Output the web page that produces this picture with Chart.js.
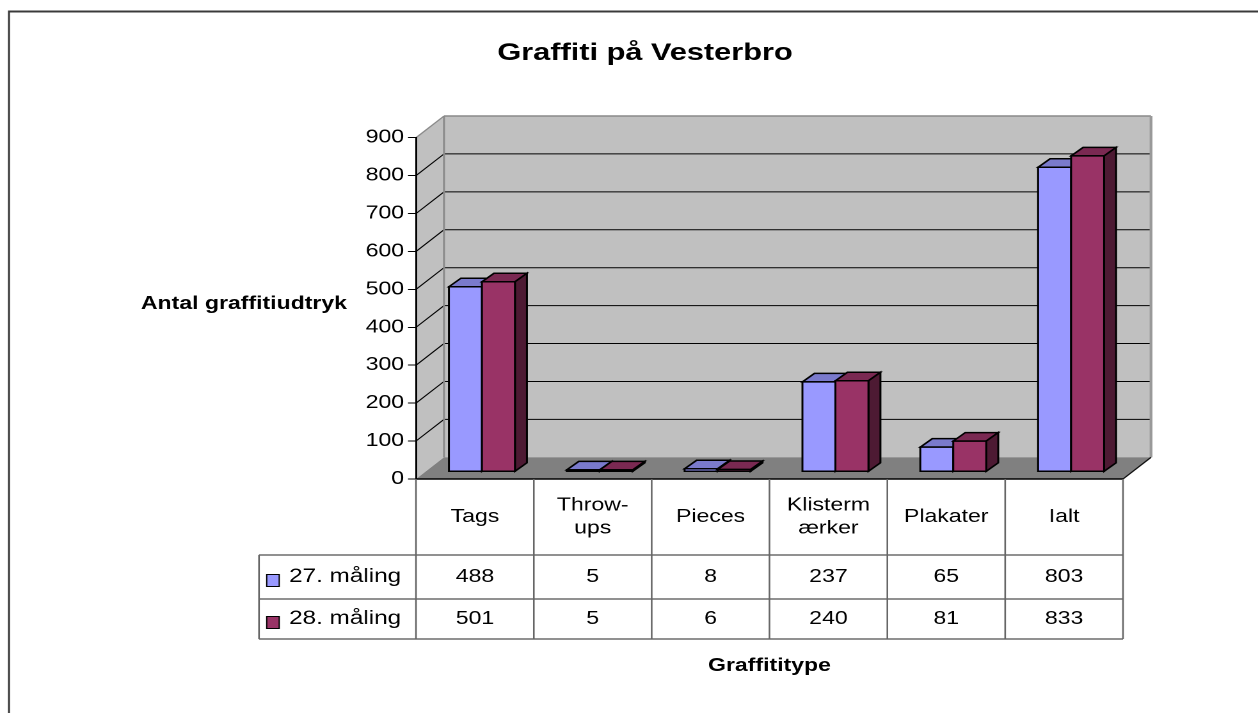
<!DOCTYPE html>
<html>
<head>
<meta charset="utf-8">
<script src="https://cdn.jsdelivr.net/npm/chart.js@4/dist/chart.umd.min.js"></script>
<style>
  html, body { margin: 0; padding: 0; background: #fff; }
  #chart { display: block; width: 1258px; height: 713px; }
</style>
</head>
<body>
<canvas id="chart" width="983" height="713" style="width:1258px;height:713px"></canvas>
<script>
const title = "Graffiti på Vesterbro";
const yTitle = "Antal graffitiudtryk";
const xTitle = "Graffititype";
const categories = ["Tags", ["Throw-", "ups"], "Pieces", ["Klisterm", "ærker"], "Plakater", "Ialt"];
const seriesNames = ["27. måling", "28. måling"];
const maaling27 = [488, 5, 8, 237, 65, 803];
const maaling28 = [501, 5, 6, 240, 81, 833];
const yMin = 0, yMax = 900, yStep = 100;

const FONT = "'Liberation Sans', Arial, sans-serif";
// the original is stretched sideways, so the canvas is drawn narrower and scaled up by CSS
const SX = 1258 / 983;

// colours: front, top, side
const shades = [
  ["#9999FF", "#7A7ACC", "#4D4D80"],
  ["#993366", "#7A2952", "#4D1A33"],
];

// depth of the walls and of the bars
const wallDx = 28 / SX, wallDy = -21.7;
const barFx = 7 / SX, barFy = -7.2;
const barDx = 12 / SX, barDy = -8.5;

function poly(ctx, pts, fill, stroke, lw) {
  ctx.beginPath();
  ctx.moveTo(pts[0][0], pts[0][1]);
  for (let i = 1; i < pts.length; i++) ctx.lineTo(pts[i][0], pts[i][1]);
  ctx.closePath();
  if (fill) { ctx.fillStyle = fill; ctx.fill(); }
  if (stroke) { ctx.strokeStyle = stroke; ctx.lineWidth = lw || 1; ctx.stroke(); }
}

function line(ctx, x1, y1, x2, y2, color, lw) {
  ctx.beginPath();
  ctx.moveTo(x1, y1);
  ctx.lineTo(x2, y2);
  ctx.strokeStyle = color;
  ctx.lineWidth = lw;
  ctx.stroke();
}

const box3d = {
  id: "box3d",
  beforeDraw(chart) {
    const ctx = chart.ctx;
    const { left: L, right: R } = chart.chartArea;
    const y = chart.scales.y;
    const T = y.getPixelForValue(yMax), B = y.getPixelForValue(yMin);
    ctx.save();
    // outer frame
    line(ctx, 7, 11.5, chart.width, 11.5, "#3a3a3a", 2);
    line(ctx, 7, 10.5, 7, chart.height, "#3a3a3a", 1.6);
    // back wall
    poly(ctx, [[L + wallDx, T + wallDy], [R + wallDx, T + wallDy], [R + wallDx, B + wallDy], [L + wallDx, B + wallDy]], "#C0C0C0");
    // left wall
    poly(ctx, [[L, T], [L + wallDx, T + wallDy], [L + wallDx, B + wallDy], [L, B]], "#C0C0C0");
    // grid lines on both walls
    for (let v = yMin + yStep; v < yMax; v += yStep) {
      const py = y.getPixelForValue(v);
      line(ctx, L + wallDx, py + wallDy, R + wallDx, py + wallDy, "#000", 1);
      line(ctx, L, py, L + wallDx, py + wallDy, "#000", 1);
    }
    line(ctx, L + wallDx, T + wallDy, R + wallDx, T + wallDy, "#8a8a8a", 1.5);
    line(ctx, L, T, L + wallDx, T + wallDy, "#8a8a8a", 1.2);
    line(ctx, L + wallDx, T + wallDy, L + wallDx, B + wallDy, "#8a8a8a", 1.5);
    line(ctx, R + wallDx, T + wallDy, R + wallDx, B + wallDy, "#999", 2.2);
    // floor
    poly(ctx, [[L, B], [R, B], [R + wallDx, B + wallDy], [L + wallDx, B + wallDy]], "#808080");
    line(ctx, R, B, R + wallDx, B + wallDy, "#111", 1.2);
    line(ctx, L, B, R, B, "#000", 1.5);
    ctx.restore();
  },
  beforeDatasetsDraw(chart) {
    const ctx = chart.ctx;
    ctx.save();
    ctx.lineJoin = "miter";
    const n = chart.data.labels.length;
    for (let i = 0; i < n; i++) {
      chart.data.datasets.forEach((ds, d) => {
        const el = chart.getDatasetMeta(d).data[i];
        const { x, y, base, width } = el.getProps(["x", "y", "base", "width"], true);
        const x0 = x - width / 2 + barFx, x1 = x + width / 2 + barFx;
        const top = y + barFy, bot = base + barFy;
        const [front, topC, side] = shades[d];
        poly(ctx, [[x0, top], [x1, top], [x1 + barDx, top + barDy], [x0 + barDx, top + barDy]], topC, "#000", 1.5);
        poly(ctx, [[x1, top], [x1 + barDx, top + barDy], [x1 + barDx, bot + barDy], [x1, bot]], side, "#000", 1.5);
        poly(ctx, [[x0, top], [x1, top], [x1, bot], [x0, bot]], front, "#000", 1.5);
      });
    }
    ctx.restore();
    return false;
  },
  afterDraw(chart) {
    const ctx = chart.ctx;
    const { left: L, right: R } = chart.chartArea;
    const xs = chart.scales.x;
    const B = chart.scales.y.getPixelForValue(yMin);
    const n = chart.data.labels.length;
    const cw = (R - L) / n;
    const rowTop = 555, rowMid = 599, rowBot = 639;
    const legendLeft = 259 / SX;
    ctx.save();
    ctx.fillStyle = "#000";
    ctx.textBaseline = "middle";
    ctx.textAlign = "center";

    // titles
    ctx.font = "bold 24px " + FONT;
    ctx.fillText(title, 645 / SX, 53.5);
    ctx.font = "bold 18px " + FONT;
    ctx.fillText(yTitle, 244 / SX, 304);
    ctx.fillText(xTitle, (L + R) / 2, 666);

    // data table grid
    [rowTop, rowMid, rowBot].forEach((ry) => line(ctx, legendLeft, ry, R, ry, "#222", 1));
    for (let k = 0; k <= n; k++) {
      line(ctx, L + k * cw, B, L + k * cw, rowBot, "#666", 1.3);
    }
    line(ctx, legendLeft, rowTop, legendLeft, rowBot, "#666", 1.3);

    // header: category names
    ctx.font = "18px " + FONT;
    chart.data.labels.forEach((lab, i) => {
      const lines = Array.isArray(lab) ? lab : [lab];
      const cx = xs.getPixelForValue(i);
      const cy = (B + rowTop) / 2;
      lines.forEach((t, j) => ctx.fillText(t, cx, cy + (j - (lines.length - 1) / 2) * 23));
    });

    // rows: legend key + values
    const rows = [(rowTop + rowMid) / 2, (rowMid + rowBot) / 2];
    chart.data.datasets.forEach((ds, d) => {
      const cy = rows[d];
      ctx.fillStyle = shades[d][0];
      ctx.fillRect(266.7 / SX, cy - 2.5, 12.5 / SX, 12);
      ctx.strokeStyle = "#000";
      ctx.lineWidth = 1;
      ctx.strokeRect(266.7 / SX, cy - 2.5, 12.5 / SX, 12);
      ctx.fillStyle = "#000";
      ctx.textAlign = "left";
      ctx.font = "19px " + FONT;
      ctx.fillText(ds.label, 289 / SX, cy);
      ctx.textAlign = "center";
      ctx.font = "18px " + FONT;
      ds.data.forEach((v, i) => ctx.fillText(String(v), xs.getPixelForValue(i), cy));
    });
    ctx.restore();
  },
};

new Chart(document.getElementById("chart"), {
  type: "bar",
  data: {
    labels: categories,
    datasets: [
      { label: seriesNames[0], data: maaling27, backgroundColor: shades[0][0] },
      { label: seriesNames[1], data: maaling28, backgroundColor: shades[1][0] },
    ],
  },
  options: {
    responsive: false,
    devicePixelRatio: 2,
    animation: false,
    layout: { padding: { top: 137.7, right: 983 - 1123 / SX, bottom: 713 - 479, left: 0 } },
    datasets: { bar: { categoryPercentage: 0.56, barPercentage: 1.0 } },
    plugins: {
      legend: { display: false },
      title: { display: false },
      tooltip: { enabled: false },
    },
    scales: {
      x: { display: false, offset: true },
      y: {
        min: yMin,
        max: yMax,
        ticks: { stepSize: yStep, color: "#000", padding: 3, font: { family: FONT, size: 18 } },
        grid: { drawOnChartArea: false, drawTicks: true, tickLength: 8 / SX, color: "#000", lineWidth: 1 },
        border: { display: true, color: "#000", width: 1.5 },
        afterFit(scale) { scale.width = 416 / SX; },
      },
    },
  },
  plugins: [box3d],
});
</script>
</body>
</html>
